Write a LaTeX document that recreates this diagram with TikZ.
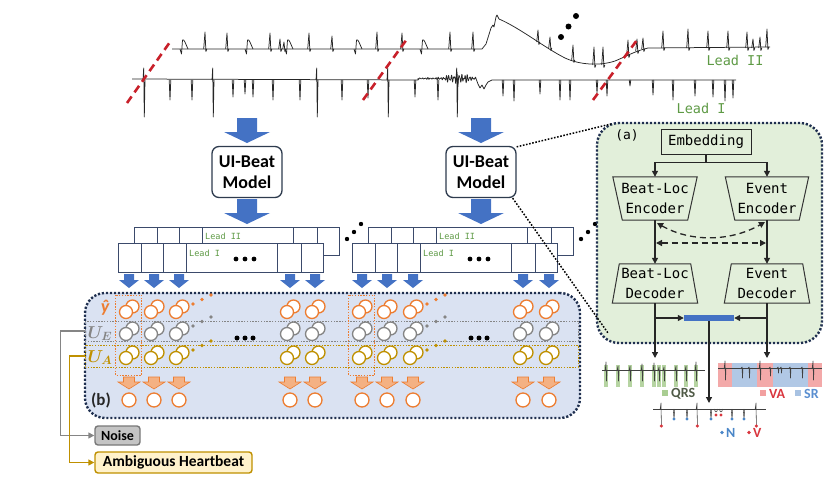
\documentclass[tikz,border=0pt]{standalone}
\usepackage{fontspec}
\setmainfont{Carlito}
\newfontfamily\monof{DejaVu Sans Mono}
\usepackage{amsmath}
\usepackage{bm}
\usetikzlibrary{arrows.meta,calc}
\definecolor{arblue}{HTML}{4472C4}
\definecolor{orng}{HTML}{ED7D31}
\definecolor{lorng}{HTML}{F4B183}
\definecolor{gry}{HTML}{858585}
\definecolor{ugold}{HTML}{BF9000}
\definecolor{navy}{HTML}{1F2F4F}
\definecolor{pbfill}{HTML}{DAE2F2}
\definecolor{pafill}{HTML}{E2EFDA}
\definecolor{leadgreen}{HTML}{5E9A45}
\definecolor{ecgred}{HTML}{C8202A}
\definecolor{qrsgreen}{HTML}{A9CD92}
\definecolor{vapink}{HTML}{F2A0A0}
\definecolor{srblue}{HTML}{A8C2E2}
\definecolor{nblue}{HTML}{4A86C8}
\definecolor{vred}{HTML}{D9363E}
\definecolor{boxline}{HTML}{2E3B4E}
\definecolor{cellline}{HTML}{3B4A6B}
\definecolor{noisefill}{HTML}{C4C4C4}
\definecolor{ambfill}{HTML}{FFF2CC}
\definecolor{qrstext}{HTML}{4F5A46}
\definecolor{srtext}{HTML}{5A8ED0}
\begin{document}
\begin{tikzpicture}[x=1pt,y=-1pt,
  ecg/.style={line width=0.75pt, black!85, line join=round},
  sig/.style={line width=0.55pt, black!75, line join=round},
  reddash/.style={ecgred, line width=2.6pt, dash pattern=on 8pt off 5pt},
  modelbox/.style={draw=boxline, line width=1.3pt, rounded corners=7pt, fill=white, minimum width=70pt, minimum height=51pt, align=center, font=\bfseries\fontsize{18}{21}\selectfont, inner sep=0pt},
  cell/.style={draw=cellline, line width=0.7pt},
  leadsmall/.style={text=leadgreen, font=\monof\fontsize{8.5}{9}\selectfont, inner sep=0pt},
  leadbig/.style={text=leadgreen, font=\monof\fontsize{13.5}{14}\selectfont, inner sep=0pt},
  mono/.style={font=\monof\fontsize{14}{20}\selectfont, align=center, inner sep=0pt},
  tline/.style={draw=black!80, line width=1pt},
  conn/.style={black!85, line width=1.3pt, -{Triangle[length=6pt,width=6pt]}},
  dconn/.style={black!85, line width=1.3pt, dash pattern=on 6pt off 4pt, {Triangle[length=6pt,width=6pt]}-{Triangle[length=6pt,width=6pt]}},
  navydot/.style={draw=navy, line width=2.4pt, dash pattern=on 2.2pt off 1.8pt},
  blackdot/.style={black, line width=1.5pt, dash pattern=on 1.6pt off 1.6pt},
  rowdot/.style={line width=1pt, dash pattern=on 1.4pt off 1.4pt},
  circ/.style={draw=#1, fill=white, line width=1.3pt},
  lbl/.style={font=\bfseries\fontsize{14}{16}\selectfont, inner sep=0pt},
  mathlbl/.style={inner sep=0pt, font=\fontsize{17}{18}\selectfont},
  bigdown/.pic={\fill[arblue] (-10,0) -- (10,0) -- (10,14) -- (23,14) -- (0,25) -- (-23,14) -- (-10,14) -- cycle;},
  smalldown/.pic={\fill[arblue] (-5,0) -- (5,0) -- (5,6) -- (10,6) -- (0,14) -- (-10,6) -- (-5,6) -- cycle;},
  orgdown/.pic={\filldraw[fill=lorng,draw=orng,line width=0.6pt] (-5.5,0) -- (5.5,0) -- (5.5,5) -- (11,5) -- (0,12) -- (-11,5) -- (-5.5,5) -- cycle;}
]
\useasboundingbox (0,0) rectangle (838,493);

% ---------------- top ECG ----------------
\draw[ecg] (172,49) -- (482,49) -- (486,44) -- (491,28) -- (493,25) -- (494,27) -- (496,17) -- (497,15) -- (499,19)
  .. controls (520,28) and (545,48) .. (565,58) .. controls (580,65) and (600,66) .. (615,61)
  .. controls (625,57) and (635,51) .. (648,48) -- (770,47);
\foreach \x/\b/\h in {205/49/17,227/49/16,270/49/16,280/49/10,284/49/7,309/49/16,332/49/13,377/49/17,402/49/16,450/49/17,473/49/17,538/42/12,550/48/11,573/60/15,594/65/18,603/65/18,628/55/15,637/51/12,643/49/11,663/48/17,688/48/19,708/48/17,728/48/17,747/48/16,753/48/9,760/48/11,767/47/18}
  \draw[ecg] (\x-1.3,\b) -- (\x,\b-\h) -- (\x+0.9,\b+2.5) -- (\x+1.8,\b);
\foreach \x/\b in {183/49,248/49,288/49,357/49,423/49}
  \draw[ecg] (\x-3,\b) -- (\x-1.5,\b+5) -- (\x-0.5,\b-9) .. controls (\x+1,\b-11) and (\x+3,\b-4) .. (\x+5,\b);
\draw[ecg] (132,79) -- (418,80) -- plot[domain=418:476, samples=320]
  (\x, {80 - 1.5 + (1+6*exp(-((\x-458)/12)^2))*(0.5*sin((\x-418)*137)+0.3*sin((\x-418)*211)+0.2*sin((\x-418)*173))})
  -- (478,84) -- (480,88) -- (482,85) -- (484,89) -- (486,85) -- (488,82) -- (492,80) -- (736,80);
\foreach \x in {144,213,317,388,457}
  \draw[ecg] (\x-1,80) -- (\x-0.3,68) -- (\x+0.3,117) -- (\x+1,80);
\foreach \x/\d in {170/20,192/20,233/17,245/14,253/17,273/20,300/20,342/20,368/18,415/17,438/20,503/16,514/21,540/14,560/20,570/20,597/13,607/16,630/6,653/15,673/20,695/16,713/17,725/21,733/18}
  \draw[ecg] (\x-0.8,80) -- (\x,80+\d) -- (\x+0.8,80);
\draw[reddash] (127,103) -- (170,42);
\draw[reddash] (363,100) -- (407,39);
\draw[reddash] (593,100) -- (637,40);
\foreach \x/\y in {561/37,568.5/26.5,576/16} \fill (\x,\y) circle (3pt);
\node[leadbig] (leadII) at (735,60) {Lead II};
\node[leadbig] (leadI) at (701,108) {Lead I};

% ---------------- models ----------------
\node[modelbox] (m1) at (247,172) {UI-Beat\\Model};
\node[modelbox] (m2) at (481,172) {UI-Beat\\Model};
\pic at (247,118) {bigdown};
\pic at (247,199) {bigdown};
\pic at (481,118) {bigdown};
\pic at (481,199) {bigdown};

% ---------------- panel (b) ----------------
\node[fill=pbfill, navydot, rounded corners=20pt, minimum width=495pt, minimum height=125pt] (pb) at (332.5,355.5) {};
\node[draw=gry, rowdot, minimum width=493pt, minimum height=20pt, inner sep=0pt] (ue) at (331.5,331) {};
\node[draw=ugold, rowdot, minimum width=493pt, minimum height=22pt, inner sep=0pt] (ua) at (331.5,356) {};

\foreach \o in {0,234} {
  \draw[cell] (134+\o,227) rectangle (339+\o,255);
  \foreach \d in {157,179,202,293,317} \draw[cell] (\d+\o,227) -- (\d+\o,255);
  \draw[cell, fill=white] (118+\o,243) rectangle (323+\o,272);
  \foreach \d in {141,163,186,277,301} \draw[cell] (\d+\o,243) -- (\d+\o,272);
  \node[leadsmall, anchor=west] (lii\o) at (205+\o,236) {Lead II};
  \node[leadsmall, anchor=west] (li\o) at (189+\o,253) {Lead I};
  \foreach \d in {236,245,254} \fill (\d+\o,259) circle (2.4pt);
  \foreach \d/\e in {347/239,354/232,361/224} \fill (\d+\o,\e) circle (2.2pt);
}

\foreach \c in {129,154,179,290,315,362,387,413,523,549} {
  \pic at (\c,274) {smalldown};
  \draw[circ=orng] (\c+3.5,306.5) circle (6.5pt);
  \draw[circ=orng] (\c-3,312) circle (6.5pt);
  \draw[circ=gry] (\c+3.5,328.5) circle (6.5pt);
  \draw[circ=gry] (\c-3,334) circle (6.5pt);
  \draw[circ=ugold] (\c+3.5,352.5) circle (6.5pt);
  \draw[circ=ugold] (\c-3,358) circle (6.5pt);
  \pic at (\c,377) {orgdown};
  \draw[circ=orng] (\c,400) circle (7pt);
}
\foreach \c in {129,362}
  \draw[orng, rowdot] (\c-13.5,295) rectangle (\c+12.5,375);
\foreach \c in {179,413} {
  \foreach \dx/\dy in {14/8,23/12.5,32/17} {
    \fill[orng] (\c+\dx,312-\dy) circle (1.8pt);
    \fill[gry] (\c+\dx,334-\dy) circle (1.8pt);
    \fill[ugold] (\c+\dx,358-\dy) circle (1.8pt);
  }
}
\foreach \x in {237,245,253,471,479,487} \fill (\x,338) circle (2.5pt);

\node[mathlbl, text=orng, font=\bfseries\itshape\fontsize{18}{19}\selectfont] (yhat) at (105,308) {ŷ};
\node[mathlbl, text=gry] (uelab) at (100,333.5) {$\bm{U_E}$};
\node[mathlbl, text=ugold] (ualab) at (100,357.5) {$\bm{U_A}$};
\node[font=\bfseries\fontsize{17}{18}\selectfont, text=black!85, inner sep=0pt] (blab) at (101,400) {(b)};

\node[draw=gry!90!black, fill=noisefill, line width=1.4pt, rounded corners=3pt, minimum width=45pt, minimum height=19pt, inner sep=0pt, lbl] (noise) at (117.5,435.5) {Noise};
\node[draw=ugold, fill=ambfill, line width=1.4pt, rounded corners=3pt, minimum width=157pt, minimum height=21pt, inner sep=0pt, font=\bfseries\fontsize{15.5}{17}\selectfont] (amb) at (173.5,462.5) {Ambiguous Heartbeat};
\draw[gry, line width=1.4pt, -{Triangle[length=6pt,width=6pt]}] (ue.west) -- ++(-24,0) |- (noise.west);
\draw[ugold, line width=1.4pt, -{Triangle[length=6pt,width=6pt]}] (ua.west) -- ++(-15,0) |- (amb.west);

% ---------------- panel (a) ----------------
\node[fill=pafill, navydot, rounded corners=22pt, minimum width=225pt, minimum height=220pt] (pa) at (709.5,233) {};
\node[mono, font=\monof\fontsize{13}{14}\selectfont] (alab) at (627,135) {(a)};
\node[mono, draw=black!85, line width=1pt, minimum width=90pt, minimum height=25pt] (emb) at (706,141.5) {Embedding};
\node[mono, minimum width=84pt, minimum height=43pt] (ble) at (655,198.5) {Beat-Loc\\Encoder};
\node[mono, minimum width=83pt, minimum height=43pt] (eve) at (767,198.5) {Event\\Encoder};
\node[mono, minimum width=85pt, minimum height=39pt] (bld) at (655,283.5) {Beat-Loc\\Decoder};
\node[mono, minimum width=85pt, minimum height=39pt] (evd) at (767,283.5) {Event\\Decoder};
\draw[tline] (ble.north west) -- (ble.north east) -- ([xshift=-9.5pt]ble.south east) -- ([xshift=9.5pt]ble.south west) -- cycle;
\draw[tline] (eve.north west) -- (eve.north east) -- ([xshift=-9.5pt]eve.south east) -- ([xshift=9.5pt]eve.south west) -- cycle;
\draw[tline] ([xshift=7pt]bld.north west) -- ([xshift=-7pt]bld.north east) -- (bld.south east) -- (bld.south west) -- cycle;
\draw[tline] ([xshift=7pt]evd.north west) -- ([xshift=-7pt]evd.north east) -- (evd.south east) -- (evd.south west) -- cycle;
\draw[conn] (emb.south) -- ++(0,8) -| (ble.north);
\draw[conn] (emb.south) -- ++(0,8) -| (eve.north);
\draw[conn] (ble.south) -- (bld.north);
\draw[conn] (eve.south) -- (evd.north);
\coordinate (cua) at (657,223);
\coordinate (cub) at (765,222);
\coordinate (csa) at (656,243);
\coordinate (csb) at (766,243);
\draw[dconn] (cua) .. controls (690,242) and (730,242) .. (cub);
\draw[dconn] (csa) -- (csb);
\node[fill=arblue, minimum width=50pt, minimum height=6pt, inner sep=0pt] (bar) at (709,318) {};
\draw[conn] (bld.south |- bar) -- (bar.west);
\draw[conn] (evd.south |- bar) -- (bar.east);
\coordinate (qrsin) at (655,358);
\coordinate (vain) at (767,358);
\coordinate (nvin) at (709,403);
\draw[conn] (bld.south) -- (qrsin);
\draw[conn] (evd.south) -- (vain);
\draw[conn] (bar.south) -- (nvin);

\coordinate (zt) at (611,124);
\coordinate (zb) at (608,333);
\draw[blackdot] ([yshift=-1pt]m2.north east) -- (zt);
\draw[blackdot] ([xshift=-4pt]m2.south east) -- (zb);

% ---------------- output signals ----------------
\foreach \bx in {606,618,630,642,654,659,664,676,686,696}
  \fill[qrsgreen, opacity=0.85] (\bx-2.2,365) rectangle (\bx+2.2,387);
\draw[sig] (602,370) -- (705,370);
\foreach \bx/\u in {606/8,618/4,630/4,642/6,654/7,659/3,664/3,676/4,686/4,696/8}
  \draw[sig] (\bx-0.8,370) -- (\bx,370-\u) -- (\bx+0.5,381) -- (\bx+1,370);
\fill[qrsgreen] (662,390) rectangle (668,396);
\node[lbl, text=qrstext, anchor=west] (qrslab) at (671,393.5) {QRS};
\fill[vapink, opacity=0.9] (718,363) rectangle (732,387);
\fill[srblue, opacity=0.9] (732,363) rectangle (757,387);
\fill[vapink, opacity=0.9] (757,363) rectangle (773,387);
\fill[srblue, opacity=0.9] (773,363) rectangle (808,387);
\fill[vapink, opacity=0.9] (808,363) rectangle (822,387);
\draw[sig] (718,368) -- (822,368);
\foreach \bx/\u/\d in {725/7/12,742/1/10,749/1/10,760/7/12,770/1/8,778/1/5,781/1/5,790/1/10,802/1/10,813/7/12}
  \draw[sig] (\bx-0.8,368) -- (\bx,368-\u) -- (\bx+0.5,368+\d) -- (\bx+1,368);
\fill[vapink] (760,390) rectangle (766,396);
\node[lbl, text=vred, anchor=west] (valab) at (769,393.5) {VA};
\fill[srblue] (795,390) rectangle (801,396);
\node[lbl, text=srtext, anchor=west] (srlab) at (804,393.5) {SR};
\draw[sig] (653,409) -- (766,409);
\foreach \bx in {661,697,756} {
  \draw[sig] (\bx-0.8,409) -- (\bx,403) -- (\bx+0.4,426);
  \fill[vred] (\bx+0.4,426) circle (1.7pt);
}
\foreach \bx in {674,687,711,732,744} {
  \draw[sig] (\bx-0.8,409) -- (\bx,419) -- (\bx+0.8,409);
  \fill[nblue] (\bx,419) circle (1.7pt);
}
\foreach \bx in {716,721} {
  \draw[sig] (\bx-1.5,409) .. controls (\bx-1,413) and (\bx+1,413) .. (\bx+1.5,409);
  \fill[vred] (\bx,415) circle (1.7pt);
}
\fill[nblue] (722,432.5) circle (1.8pt);
\node[lbl, text=nblue, anchor=west] (nlab) at (726,433) {N};
\fill[vred] (749,432.5) circle (1.8pt);
\node[lbl, text=vred, anchor=west] (vlab) at (753,433) {V};
\end{tikzpicture}
\end{document}
